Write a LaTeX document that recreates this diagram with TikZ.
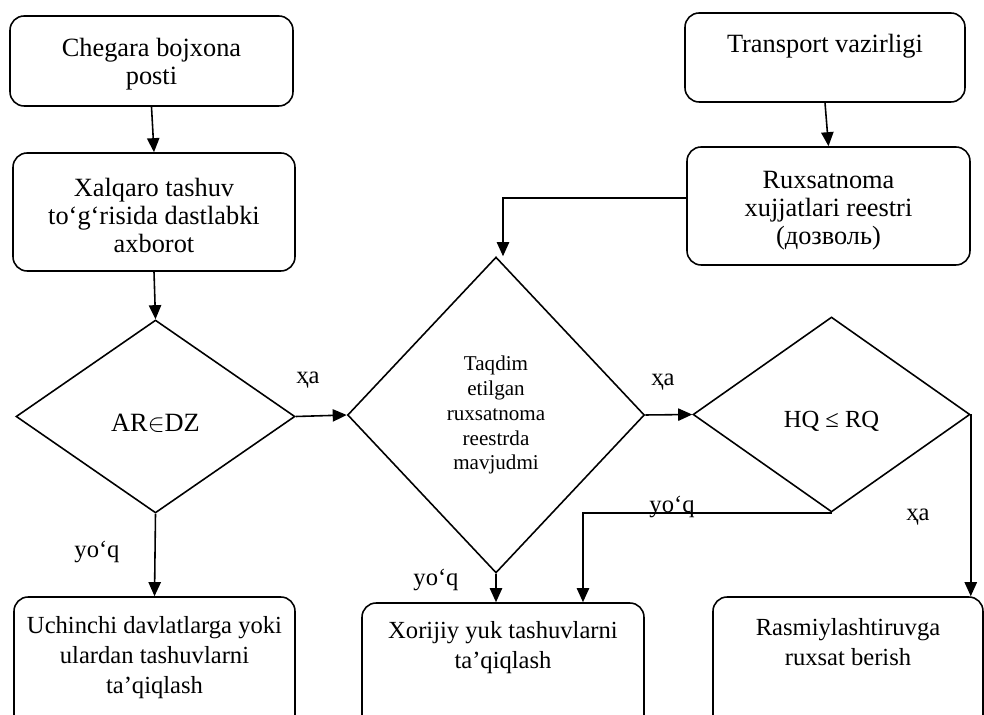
\documentclass[tikz,border=0pt]{standalone}
\usepackage{fontspec}
\setmainfont{Liberation Serif}
\usetikzlibrary{shapes.geometric,arrows.meta}

\begin{document}
\begin{tikzpicture}[
    x=0.02cm, y=-0.02cm,
    font=\fontsize{14}{17}\selectfont,
    big/.style={font=\fontsize{15}{16}\selectfont},
    box/.style={rectangle, rounded corners=8pt, draw, line width=0.9pt, align=center, inner sep=2pt},
    decision/.style={diamond, draw, line width=0.9pt, align=center, inner sep=0pt},
    arr/.style={draw, line width=0.9pt, -{Triangle[length=8pt,width=7pt]}},
    lbl/.style={inner sep=0pt}
  ]
    \useasboundingbox (0,0) rectangle (984,715);
    \clip (0,0) rectangle (984,715);

    % Chap ustun
    \node[box, big, minimum width=5.66cm, minimum height=1.8cm, text depth=0pt] (posti) at (151.5,61) {Chegara bojxona\\posti};
    \node[box, big, minimum width=5.64cm, minimum height=2.36cm, text height=46.5pt, text depth=0pt] (axborot) at (154,212) {Xalqaro tashuv\\to‘g‘risida dastlabki\\axborot};
    \node[decision, big, minimum width=5.58cm, minimum height=3.86cm, text height=17pt, text depth=0pt] (ardz) at (155.5,416.5) {AR$\in$DZ};
    \node[box, minimum width=5.62cm, minimum height=2.96cm, text depth=18pt] (taqiq1) at (154.5,671) {Uchinchi davlatlarga yoki\\ulardan tashuvlarni\\ta’qiqlash};

    % O'rta ustun
    \node[decision, minimum width=5.94cm, minimum height=6.32cm, font=\fontsize{12}{14.2}\selectfont] (mavjud) at (496,415) {Taqdim\\etilgan\\ruxsatnoma\\reestrda\\mavjudmi};
    \node[box, minimum width=5.64cm, minimum height=3cm, text depth=38pt] (taqiq2) at (503,678) {Xorijiy yuk tashuvlarni\\ta’qiqlash};

    % O'ng ustun
    \node[box, big, minimum width=5.6cm, minimum height=1.78cm, text depth=16.5pt] (vazir) at (825,57.5) {Transport vazirligi};
    \node[box, big, minimum width=5.66cm, minimum height=2.36cm, text height=44.2pt, text depth=0pt] (reestr) at (828.5,206) {Ruxsatnoma\\xujjatlari reestri\\(дозволь)};
    \node[decision, minimum width=5.54cm, minimum height=3.9cm, text height=15pt, text depth=0pt] (hqrq) at (831.5,414.5) {HQ ≤ RQ};
    \node[box, minimum width=5.4cm, minimum height=2.96cm, text depth=33pt] (ruxsat) at (848,671) {Rasmiylashtiruvga\\ruxsat berish};

    % Yozuvlar
    \node[lbl] (ha1) at (308,380) {ҳa};
    \node[lbl] (ha2) at (663,382) {ҳa};
    \node[lbl] (ha3) at (918,517) {ҳa};
    \node[lbl] (yoq1) at (97,552) {yo‘q};
    \node[lbl] (yoq2) at (436,580) {yo‘q};
    \node[lbl] (yoq3) at (672,507) {yo‘q};

    % Strelkalar
    \draw[arr] (posti.south) -- (axborot.north);
    \draw[arr] (axborot.south) -- (ardz.north);
    \draw[arr] (ardz.east) -- (mavjud.west);
    \draw[arr] (ardz.south) -- (taqiq1.north);
    \draw[arr] (vazir.south) -- (reestr.north);
    \draw[arr] ([yshift=0.16cm]reestr.west) -| ([xshift=0.14cm]mavjud.north);
    \draw[arr] (mavjud.east) -- (hqrq.west);
    \draw[arr] (mavjud.south) -- (mavjud.south |- taqiq2.north);
    \draw[arr] (hqrq.south) -| ([xshift=1.6cm]taqiq2.north);
    \draw[arr] (hqrq.east) -- (hqrq.east |- ruxsat.north);
  \end{tikzpicture}
\end{document}
